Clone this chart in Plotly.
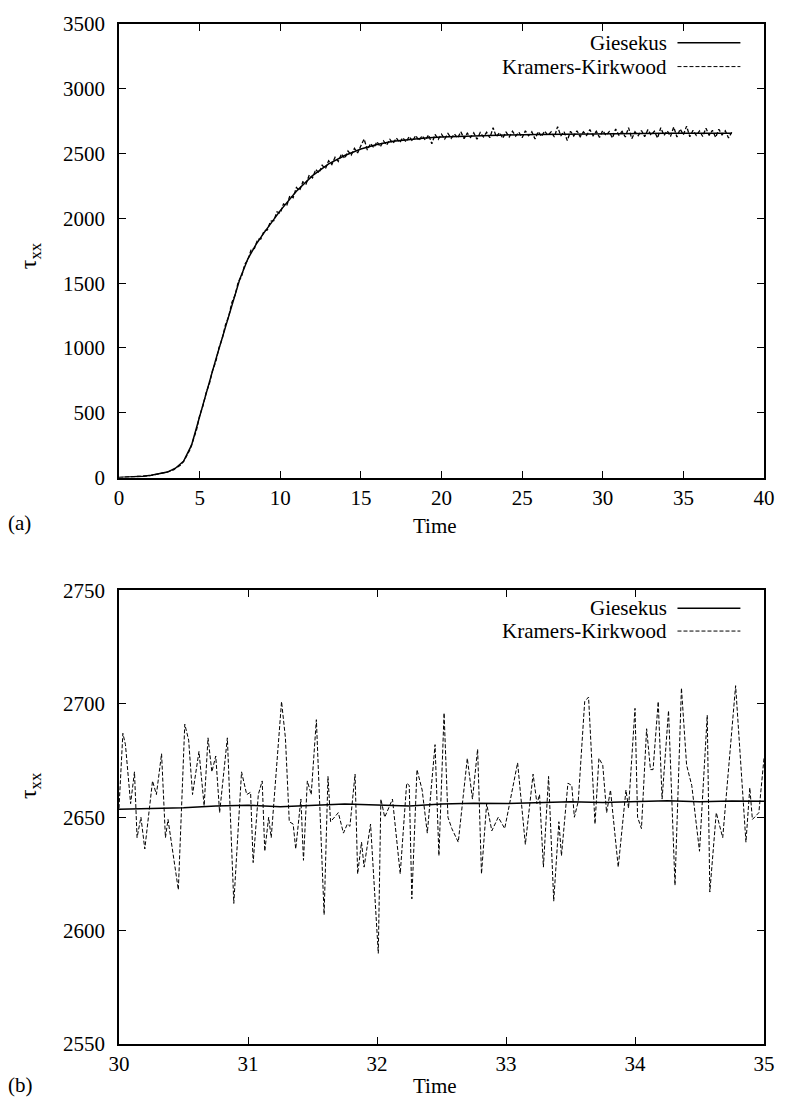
import plotly.graph_objects as go

# ---------------- Panel (a) data ----------------
top_g_t = [0, 0.5, 1, 1.5, 2, 2.5, 3, 3.5, 4, 4.5, 5, 5.5, 6, 6.5, 7, 7.5, 8, 8.5, 9, 9.5,
           10, 11, 12, 13, 14, 15, 16, 17, 18, 19, 20, 22, 24, 26, 28, 30, 32, 34, 36, 38]
top_g_v = [0, 2, 5, 10, 17, 27, 42, 72, 125, 250, 478, 690, 910, 1125, 1340, 1535, 1690, 1800,
           1890, 1980, 2060, 2210, 2330, 2420, 2485, 2535, 2570, 2595, 2610, 2620, 2628, 2638,
           2644, 2648, 2651, 2653, 2655, 2656, 2657, 2657]

top_kk_t = [round(0.2 * i, 1) for i in range(191)]
top_kk_v = [
    0, 1, 2, 2, 4, 5, 6, 9, 11, 13, 17, 22, 24, 31, 35, 43, 50, 61, 79, 95, 122,
    168, 216, 290, 365, 478, 552, 652, 722, 826, 892, 1002, 1071, 1178, 1241, 1352, 1408, 1512, 1551, 1645, 1682,
    1762, 1768, 1838, 1842, 1905, 1911, 1978, 1982, 2051, 2040, 2112, 2098, 2176, 2160, 2238, 2214, 2282, 2266, 2335, 2312,
    2378, 2350, 2410, 2382, 2445, 2415, 2472, 2440, 2498, 2462, 2520, 2488, 2540, 2505, 2560, 2612, 2528, 2578, 2545, 2592,
    2552, 2598, 2565, 2610, 2578, 2620, 2585, 2622, 2590, 2632, 2596, 2640, 2600, 2638, 2604, 2645, 2575, 2648, 2610, 2650,
    2612, 2655, 2618, 2652, 2620, 2668, 2615, 2658, 2625, 2660, 2610, 2662, 2628, 2664, 2622, 2700, 2630, 2662, 2618, 2668,
    2628, 2672, 2635, 2665, 2622, 2676, 2638, 2668, 2612, 2670, 2632, 2674, 2640, 2668, 2628, 2708, 2636, 2670, 2600, 2672,
    2635, 2676, 2630, 2668, 2640, 2685, 2638, 2672, 2625, 2678, 2640, 2670, 2620, 2690, 2642, 2672, 2628, 2700, 2615, 2668,
    2638, 2678, 2630, 2685, 2642, 2672, 2620, 2700, 2640, 2676, 2632, 2705, 2628, 2690, 2645, 2712, 2630, 2680, 2640, 2675,
    2632, 2696, 2640, 2680, 2625, 2688, 2644, 2676, 2620, 2665,
]

# ---------------- Panel (b) data ----------------
bot_g_t = [30.0, 30.25, 30.5, 30.75, 31.0, 31.25, 31.5, 31.75, 32.0, 32.25, 32.5,
           32.75, 33.0, 33.25, 33.5, 33.75, 34.0, 34.25, 34.5, 34.75, 35.0]
bot_g_v = [2653.5, 2653.8, 2654.2, 2655.0, 2655.3, 2654.6, 2655.2, 2655.8, 2655.4, 2655.0, 2655.8,
           2656.2, 2656.0, 2656.4, 2656.8, 2656.5, 2656.9, 2657.3, 2656.8, 2657.2, 2657.0]

bot_kk_t = [
    30.00, 30.03, 30.05, 30.09, 30.12, 30.14, 30.17, 30.20, 30.26, 30.29, 30.33, 30.36, 30.38,
    30.46, 30.51, 30.54, 30.57, 30.62, 30.66, 30.69, 30.72, 30.75, 30.78, 30.84, 30.89, 30.95,
    30.99, 31.02, 31.04, 31.08, 31.11, 31.13, 31.16, 31.18, 31.26, 31.29, 31.32, 31.35, 31.37,
    31.41, 31.43, 31.46, 31.49, 31.53, 31.59, 31.62, 31.64, 31.70, 31.74, 31.77, 31.79, 31.83,
    31.85, 31.88, 31.90, 31.95, 32.01, 32.03, 32.06, 32.12, 32.18, 32.23, 32.25, 32.27, 32.31,
    32.35, 32.39, 32.45, 32.48, 32.52, 32.55, 32.58, 32.63, 32.70, 32.74, 32.78, 32.81, 32.85,
    32.89, 32.94, 32.99, 33.09, 33.15, 33.21, 33.24, 33.26, 33.29, 33.33, 33.37, 33.41, 33.43,
    33.48, 33.51, 33.53, 33.56, 33.61, 33.64, 33.69, 33.72, 33.75, 33.78, 33.81, 33.87, 33.93,
    33.95, 34.00, 34.02, 34.05, 34.09, 34.12, 34.14, 34.18, 34.21, 34.26, 34.31, 34.36, 34.40,
    34.44, 34.50, 34.56, 34.58, 34.63, 34.68, 34.78, 34.86, 34.89, 34.91, 34.96, 35.00,
]
bot_kk_v = [
    2654, 2687, 2682, 2656, 2670, 2641, 2650, 2636, 2666, 2660, 2678, 2641, 2649,
    2618, 2691, 2684, 2660, 2679, 2655, 2685, 2670, 2677, 2652, 2685, 2612, 2670,
    2660, 2661, 2630, 2660, 2666, 2635, 2650, 2641, 2701, 2685, 2648, 2647, 2636,
    2658, 2631, 2666, 2660, 2693, 2607, 2668, 2648, 2652, 2643, 2647, 2646, 2669,
    2625, 2639, 2628, 2647, 2590, 2658, 2650, 2658, 2625, 2665, 2664, 2614, 2671,
    2662, 2643, 2682, 2633, 2696, 2650, 2645, 2639, 2676, 2658, 2680, 2625, 2656,
    2644, 2650, 2645, 2674, 2638, 2669, 2656, 2660, 2628, 2668, 2613, 2648, 2633,
    2665, 2664, 2650, 2657, 2701, 2703, 2647, 2676, 2673, 2652, 2662, 2628, 2662,
    2654, 2698, 2650, 2645, 2689, 2671, 2671, 2701, 2658, 2697, 2620, 2707, 2673,
    2664, 2635, 2695, 2617, 2652, 2641, 2708, 2639, 2663, 2649, 2652, 2676,
]

series_names = ["Giesekus", "Kramers-Kirkwood"]

FONT = "Liberation Serif, Times New Roman, serif"
W, H = 787, 1099
ML, MR, MT, MB = 119, 12, 14, 55
PW, PH = W - ML - MR, H - MT - MB


def py(pix):
    return (H - MB - pix) / PH


def px(pix):
    return (pix - ML) / PW


fig = go.Figure()
solid = dict(color="black", width=1.5)
dashed = dict(color="black", width=1, dash="4px,2px")
dashed_top = dict(color="black", width=1.3, dash="4px,2px")

fig.add_trace(go.Scatter(x=top_g_t, y=top_g_v, mode="lines", line=solid,
                         name=series_names[0], xaxis="x", yaxis="y"))
fig.add_trace(go.Scatter(x=top_kk_t, y=top_kk_v, mode="lines", line=dashed_top,
                         name=series_names[1], xaxis="x", yaxis="y"))
fig.add_trace(go.Scatter(x=bot_g_t, y=bot_g_v, mode="lines", line=solid,
                         name=series_names[0], xaxis="x2", yaxis="y2"))
fig.add_trace(go.Scatter(x=bot_kk_t, y=bot_kk_v, mode="lines", line=dashed,
                         name=series_names[1], xaxis="x2", yaxis="y2"))

axcommon = dict(showline=True, linecolor="black", linewidth=1.5, mirror="ticks",
                ticks="inside", ticklen=7, tickwidth=1, tickcolor="black",
                showgrid=False, zeroline=False,
                tickfont=dict(family=FONT, size=21, color="black"))

top_dom = [py(472), 1.0]
bot_dom = [0.0, py(586)]

fig.update_layout(
    width=W, height=H, margin=dict(l=ML, r=MR, t=MT, b=MB),
    font=dict(family=FONT, size=21, color="black"),
    paper_bgcolor="white", plot_bgcolor="white", showlegend=False,
    xaxis=dict(axcommon, range=[0, 40], dtick=5, tick0=0, anchor="y", domain=[0, 1],
               ticklabelstandoff=0),
    yaxis=dict(axcommon, range=[0, 3500], dtick=500, tick0=0, anchor="x", domain=top_dom,
               ticklabelstandoff=8),
    xaxis2=dict(axcommon, range=[30, 35], dtick=1, tick0=30, anchor="y2", domain=[0, 1],
                ticklabelstandoff=0),
    yaxis2=dict(axcommon, range=[2550, 2750], dtick=50, tick0=2550, anchor="x2", domain=bot_dom,
                ticklabelstandoff=8),
)

ann = []
tfont = dict(family=FONT, size=21, color="black")
# axis titles
ann.append(dict(text="Time", x=0.49, y=py(521), xref="paper", yref="paper", showarrow=False,
                font=tfont, xanchor="center", yanchor="middle"))
ann.append(dict(text="Time", x=0.49, y=py(1086), xref="paper", yref="paper", showarrow=False,
                font=tfont, xanchor="center", yanchor="middle"))
yfont = dict(family=FONT, size=24, color="black")
ann.append(dict(text="τ<sub>xx</sub>", x=px(28), y=py(248), xref="paper", yref="paper",
                showarrow=False, font=yfont, textangle=-90, xanchor="center", yanchor="middle"))
ann.append(dict(text="τ<sub>xx</sub>", x=px(28), y=py(783), xref="paper", yref="paper",
                showarrow=False, font=yfont, textangle=-90, xanchor="center", yanchor="middle"))
# panel labels
ann.append(dict(text="(a)", x=px(4), y=py(518), xref="paper", yref="paper", showarrow=False,
                font=tfont, xanchor="left", yanchor="middle"))
ann.append(dict(text="(b)", x=px(4), y=py(1085), xref="paper", yref="paper", showarrow=False,
                font=tfont, xanchor="left", yanchor="middle"))

shapes = []
# manual legends (text left, line sample right)
for (yg, yk) in [(33, 57), (604, 627)]:
    for name, yy, ln in [(series_names[0], yg, solid), (series_names[1], yk, dashed)]:
        ann.append(dict(text=name, x=px(678), y=py(yy), xref="paper", yref="paper",
                        showarrow=False, font=tfont, xanchor="right", yanchor="middle"))
        shapes.append(dict(type="line", xref="paper", yref="paper", x0=px(687), x1=px(751),
                           y0=py(yy), y1=py(yy), line=ln))

fig.update_layout(annotations=ann, shapes=shapes)
fig.write_html("out.html")
